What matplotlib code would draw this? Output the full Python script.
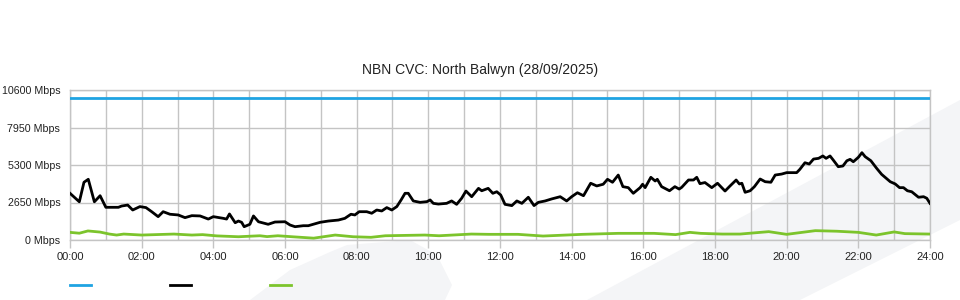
import matplotlib.pyplot as plt
from matplotlib.patches import Polygon
from matplotlib.lines import Line2D

plt.rcParams['font.family'] = ['Liberation Sans', 'DejaVu Sans']

# capacity (blue), traffic in (black), traffic out (green) - Mbps vs hour of day
cap_hours = [0, 24]
cap_values = [10000, 10000]

in_hours = [0.00, 0.26, 0.39, 0.51, 0.68, 0.84, 1.00, 1.35, 1.44, 1.61, 1.75, 1.95,
            2.12, 2.28, 2.46, 2.60, 2.79, 3.02, 3.21, 3.40, 3.63, 3.86, 4.00, 4.28,
            4.37, 4.45, 4.61, 4.70, 4.79, 4.86, 5.02, 5.12, 5.26, 5.53, 5.72, 6.00,
            6.14, 6.28, 6.51, 6.65, 6.98, 7.21, 7.49, 7.67, 7.84, 7.95, 8.07, 8.28,
            8.42, 8.56, 8.70, 8.84, 8.98, 9.12, 9.24, 9.35, 9.44, 9.58, 9.77, 9.96,
            10.05, 10.14, 10.28, 10.51, 10.65, 10.79, 10.93, 11.05, 11.21, 11.40, 11.49, 11.67,
            11.80, 11.91, 12.02, 12.14, 12.33, 12.47, 12.61, 12.79, 12.95, 13.07, 13.26, 13.44,
            13.68, 13.86, 14.00, 14.16, 14.33, 14.53, 14.70, 14.88, 15.00, 15.14, 15.30, 15.43,
            15.58, 15.72, 15.91, 15.98, 16.05, 16.21, 16.33, 16.39, 16.51, 16.73, 16.88, 17.00,
            17.07, 17.26, 17.40, 17.49, 17.58, 17.72, 17.91, 18.07, 18.28, 18.42, 18.59, 18.68,
            18.75, 18.84, 18.98, 19.10, 19.26, 19.40, 19.56, 19.68, 19.86, 20.00, 20.28, 20.37,
            20.51, 20.63, 20.75, 20.89, 21.01, 21.10, 21.21, 21.30, 21.44, 21.57, 21.68, 21.77,
            21.86, 22.00, 22.10, 22.19, 22.35, 22.51, 22.65, 22.89, 23.03, 23.15, 23.26, 23.37,
            23.49, 23.68, 23.82, 23.91, 24.00]
in_values = [3300, 2700, 4080, 4290, 2700, 3130, 2310, 2310, 2400, 2470, 2120, 2360,
             2290, 2000, 1650, 2000, 1820, 1770, 1580, 1720, 1700, 1480, 1650, 1530,
             1480, 1840, 1220, 1340, 1250, 940, 1110, 1700, 1290, 1110, 1270, 1290,
             1060, 940, 1010, 1010, 1250, 1340, 1410, 1530, 1820, 1770, 2000, 2000,
             1890, 2120, 2050, 2290, 2120, 2360, 2830, 3300, 3300, 2760, 2660, 2710,
             2830, 2590, 2540, 2590, 2760, 2520, 2950, 3460, 3060, 3650, 3480, 3650,
             3300, 3410, 3180, 2520, 2430, 2760, 2590, 3020, 2430, 2660, 2760, 2900,
             3060, 2760, 3060, 3340, 3130, 4010, 3820, 3940, 4290, 4080, 4590, 3770,
             3700, 3300, 3700, 3940, 3700, 4430, 4170, 4290, 3770, 3480, 3770, 3600,
             3720, 4240, 4240, 4430, 3980, 4060, 3700, 4010, 3460, 3820, 4240, 3960,
             4010, 3370, 3480, 3770, 4310, 4120, 4080, 4590, 4660, 4760, 4760, 5000,
             5460, 5370, 5720, 5770, 5940, 5770, 5940, 5650, 5180, 5230, 5600, 5700,
             5530, 5840, 6170, 5890, 5600, 5070, 4640, 4120, 3960, 3700, 3700, 3480,
             3410, 3020, 3060, 2950, 2590]

out_hours = [0, 0.26, 0.5, 0.84, 1.1, 1.3, 1.5, 2.0, 2.9, 3.4, 3.7, 4.1, 4.7, 5.3, 5.5,
             5.8, 6.2, 6.8, 7.4, 7.9, 8.4, 8.8, 9.9, 10.3, 11.2, 11.7, 12.5, 13.2, 14.3,
             15.3, 16.3, 16.9, 17.3, 17.6, 18.2, 18.7, 19.5, 20.0, 20.8, 21.4, 22.0, 22.5,
             23.0, 23.3, 24.0]
out_values = [540, 480, 640, 560, 420, 350, 420, 350, 420, 350, 380, 290, 230, 300, 240,
              300, 230, 130, 350, 230, 190, 300, 350, 300, 420, 400, 400, 280, 400,
              470, 470, 380, 540, 470, 420, 420, 590, 400, 660, 620, 540, 350,
              570, 450, 420]

y_ticks = [0, 2650, 5300, 7950, 10600]
y_labels = ['%d Mbps' % v for v in y_ticks]
x_ticks = list(range(0, 25, 2))
x_labels = ['%02d:00' % h for h in x_ticks]

blue = '#1fa3e2'
green = '#7cc42c'
grid_col = '#c4c4c4'
wm_col = '#f4f5f7'

fig = plt.figure(figsize=(9.6, 3.0), dpi=100)
fig.patch.set_facecolor('white')


def px(points):
    return [(x / 960.0, 1 - y / 300.0) for x, y in points]


# faint background watermark shapes
wm1 = Polygon(px([(250, 300), (290, 270), (330, 252), (347, 245), (410, 240),
                  (437, 255), (452, 285), (445, 300)]),
              closed=True, transform=fig.transFigure, facecolor=wm_col,
              edgecolor='none', zorder=-5)
wm2 = Polygon(px([(587, 300), (960, 100), (960, 220), (800, 300)]),
              closed=True, transform=fig.transFigure, facecolor=wm_col,
              edgecolor='none', zorder=-5)
fig.patches.extend([wm1, wm2])

ax = fig.add_axes([70 / 960, 0.2, 860 / 960, 0.5])
ax.set_facecolor('none')
ax.set_zorder(2)

ax.plot(cap_hours, cap_values, color=blue, lw=2, zorder=3)
ax.plot(in_hours, in_values, color='black', lw=2, zorder=4)
ax.plot(out_hours, out_values, color=green, lw=2, zorder=3)

ax.set_xlim(0, 24)
ax.set_ylim(0, 10600)
ax.set_xticks(x_ticks)
ax.set_xticklabels(x_labels)
ax.set_xticks(range(1, 24, 2), minor=True)
ax.set_yticks(y_ticks)
ax.set_yticklabels(y_labels)

ax.grid(axis='both', which='both', color=grid_col, lw=1)
ax.set_axisbelow(True)
for s in ax.spines.values():
    s.set_color(grid_col)
    s.set_linewidth(1)

ax.tick_params(axis='x', which='major', length=6, width=1, color=grid_col,
               labelsize=8, labelcolor='#222222', pad=3)
ax.tick_params(axis='x', which='minor', length=0)
ax.tick_params(axis='y', length=0, labelsize=7.7, labelcolor='#222222', pad=7)

fig.text(0.5, 1 - 70 / 300, 'NBN CVC: North Balwyn (28/09/2025)',
         ha='center', va='center', fontsize=10, color='#222222')

# legend swatches (no labels)
for x0, c in [(70, blue), (170, 'black'), (270, green)]:
    fig.add_artist(Line2D([x0 / 960, (x0 + 21) / 960], [1 - 285 / 300] * 2,
                          color=c, lw=2, transform=fig.transFigure))

fig.savefig('out.png', dpi=100)
